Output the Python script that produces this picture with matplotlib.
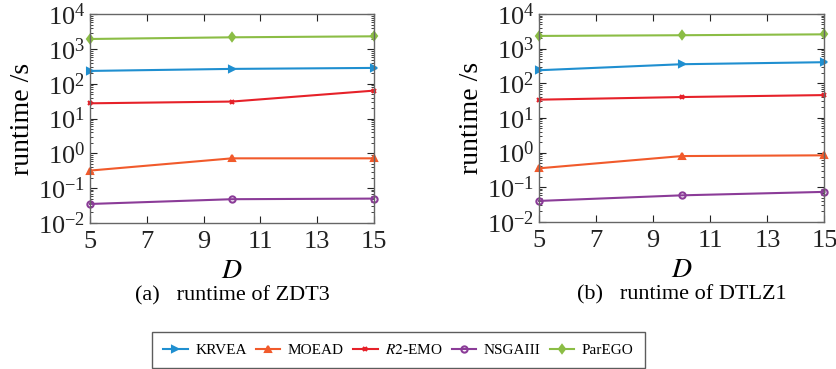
import matplotlib
matplotlib.use("Agg")
import matplotlib.pyplot as plt
from matplotlib.ticker import LogLocator, FixedLocator, NullFormatter
import numpy as np

plt.rcParams['font.family'] = ['Liberation Serif', 'DejaVu Serif']
plt.rcParams['mathtext.fontset'] = 'stix'

D = [5, 10, 15]
methods = ["KRVEA", "MOEAD", "$R2$-EMO", "NSGAIII", "ParEGO"]

# runtime of ZDT3
zdt3_krvea = [236, 270, 288]
zdt3_moead = [0.32, 0.72, 0.72]
zdt3_r2emo = [27.6, 31, 64]
zdt3_nsga3 = [0.035, 0.048, 0.050]
zdt3_parego = [1960, 2190, 2340]

# runtime of DTLZ1
dtlz1_krvea = [238, 355, 406]
dtlz1_moead = [0.35, 0.79, 0.83]
dtlz1_r2emo = [33.6, 40, 45.6]
dtlz1_nsga3 = [0.040, 0.058, 0.073]
dtlz1_parego = [2330, 2440, 2590]

captions = ["(a)   runtime of ZDT3", "(b)   runtime of DTLZ1"]

colors = ["#1f8fd0", "#f15a2b", "#e62129", "#8b3c98", "#8bbd45"]
markers = [">", "^", "x", "o", "d"]
msizes = [5, 5, 3.5, 4.5, 4.5]

fig = plt.figure(figsize=(8.37, 3.69), dpi=100)
ax1 = fig.add_axes([0.1075, 0.396, 0.3393, 0.565])
ax2 = fig.add_axes([0.644, 0.399, 0.341, 0.563])

data = [
    [zdt3_krvea, zdt3_moead, zdt3_r2emo, zdt3_nsga3, zdt3_parego],
    [dtlz1_krvea, dtlz1_moead, dtlz1_r2emo, dtlz1_nsga3, dtlz1_parego],
]

handles = []
for ax, series, cap in zip([ax1, ax2], data, captions):
    handles = []
    for vals, c, m, ms, name in zip(series, colors, markers, msizes, methods):
        h, = ax.plot(D, vals, color=c, marker=m, markersize=ms, lw=1.5,
                     markerfacecolor=c if m in (">", "^", "d") else "none",
                     markeredgewidth=1.5, label=name, clip_on=False)
        handles.append(h)
    ax.set_yscale("log")
    ax.set_ylim(1e-2, 1e4)
    ax.set_xlim(5, 15)
    ax.xaxis.set_major_locator(FixedLocator([5, 7, 9, 11, 13, 15]))
    ax.yaxis.set_major_locator(LogLocator(base=10, numticks=10))
    ax.yaxis.set_minor_locator(LogLocator(base=10, subs=np.arange(2, 10), numticks=10))
    ax.yaxis.set_minor_formatter(NullFormatter())
    ax.tick_params(which="both", direction="in", top=True, right=True,
                   labelsize=19, colors="#222222")
    ax.tick_params(which="major", length=5)
    ax.tick_params(which="minor", length=2.5)
    ax.tick_params(axis="x", pad=6)
    for sp in ax.spines.values():
        sp.set_color("#666666")
        sp.set_linewidth(1.0)
    ax.set_ylabel("runtime /s", fontsize=20, labelpad=2)
    ax.set_xlabel("$D$", fontsize=20, labelpad=4)
    ax.text(0.5, -0.305, cap, transform=ax.transAxes, ha="center", va="top",
            fontsize=16)

fig.legend(handles=handles, labels=methods, loc="center",
           bbox_to_anchor=(0.476, 0.0515), ncol=5, frameon=True,
           fancybox=False, edgecolor="#333333", fontsize=11,
           handlelength=1.6, columnspacing=0.6, handletextpad=0.5,
           borderpad=0.75, borderaxespad=0)

plt.savefig("out.png", dpi=100)
